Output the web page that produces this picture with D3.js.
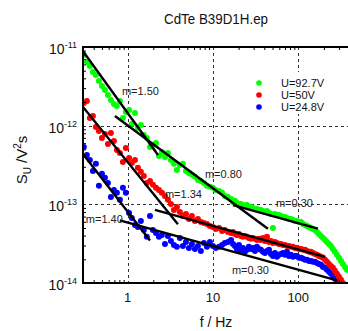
<!DOCTYPE html>
<html>
<head>
<meta charset="utf-8">
<script src="https://cdn.jsdelivr.net/npm/d3@7"></script>
<style>
  html, body { margin: 0; padding: 0; background: #fff; }
  svg { display: block; font-family: "Liberation Sans", Arial, sans-serif; }
</style>
</head>
<body>
<svg id="chart" width="348" height="331"></svg>
<script>
// Voltage noise spectra of CdTe sample B39D1H at three bias voltages.

// Measurement frequencies, Hz
const frequencies = [
  0.307, 0.333, 0.361, 0.392, 0.425, 0.461, 0.500, 0.542, 0.588, 0.637,
  0.691, 0.749, 0.812, 0.881, 0.955, 1.04, 1.12, 1.22, 1.32, 1.43,
  1.55, 1.68, 1.83, 1.98, 2.15, 2.33, 2.52, 2.74, 2.97, 3.22,
  3.49, 3.78, 4.10, 4.45, 4.83, 5.23, 5.67, 6.15, 6.67, 7.23,
  7.85, 8.51, 9.22, 10.0, 10.8, 11.8, 12.8, 13.8, 15.0, 16.3,
  17.2, 18.1, 19.1, 20.2, 21.3, 22.5, 23.7, 25.0, 26.4, 27.9,
  29.4, 31.1, 32.8, 34.6, 36.5, 38.6, 40.7, 43.0, 45.4, 47.9,
  50.5, 53.3, 56.3, 59.4, 62.7, 66.2, 69.9, 73.7, 77.8, 82.1,
  86.7, 91.5, 96.6, 102, 108, 114, 120, 127, 134, 141,
  149, 157, 166, 175, 185, 195, 206, 217, 229, 242,
  255, 269, 284, 300, 317, 334, 353, 372
];

// Spectral density S_U in units of 1e-14 V^2 s
const UNIT = 1e-14;

const su927 = [
  791, 645, 573, 481, 441, 370, 320, 284, 245, 212,
  188, 178, 206, 125, 149, 158, 105, 145, 93.5, 102,
  76.2, 69.8, 53.7, 56.9, 60.3, 41.2, 46.3, 40.1, 45.0, 36.7,
  32.7, 27.4, 31.7, 32.7, 26.6, 25.1, 23.7, 22.4, 20.4, 19.8,
  18.7, 17.2, 16.7, 16.2, 15.2, 14.8, 14.0, 12.8, 12.4, 11.7,
  10.7, 11.1, 10.4, 10.1, 10.1, 9.83, 9.55, 9.83, 9.27, 9.27,
  9.01, 8.75, 8.75, 8.49, 8.49, 8.25, 8.01, 8.25, 7.78, 7.56,
  5.01, 7.56, 7.33, 7.33, 7.12, 6.92, 6.92, 6.72, 6.52, 6.52,
  6.34, 6.15, 6.15, 5.98, 5.98, 5.64, 5.47, 5.32, 5.16, 5.01,
  4.87, 4.73, 4.46, 4.21, 3.97, 3.74, 3.53, 3.33, 3.14, 2.96,
  2.71, 2.49, 2.28, 2.09, 1.91, 1.75, 1.60, 1.47
];

const su500 = [
  194, 206, 125, 133, 96.2, 85.6, 69.8, 78.4, 58.6, 80.7,
  63.9, 49.1, 45.0, 34.6, 52.1, 38.9, 33.6, 36.7, 29.1, 25.9,
  23.0, 18.7, 19.8, 17.7, 16.2, 15.2, 14.0, 12.8, 11.4, 10.1,
  8.49, 9.27, 8.01, 7.12, 7.56, 6.52, 7.12, 6.15, 6.52, 5.98,
  5.80, 5.64, 5.32, 5.16, 4.87, 5.01, 4.59, 4.73, 4.46, 4.33,
  4.46, 4.21, 4.09, 4.21, 3.97, 3.86, 3.97, 3.86, 3.74, 3.64,
  3.74, 3.64, 3.53, 3.64, 3.53, 3.74, 3.43, 3.86, 3.33, 3.43,
  3.23, 3.33, 3.23, 3.14, 3.14, 3.05, 3.05, 2.96, 2.96, 2.88,
  2.88, 2.79, 2.79, 2.71, 2.71, 2.64, 2.64, 2.56, 2.49, 2.49,
  2.41, 2.34, 2.28, 2.21, 2.15, 2.09, 1.97, 1.86, 1.75, 1.65,
  1.56, 1.43, 1.31, 1.20, 1.10, 1.00, 0.89, 0.79
];

const su248 = [
  53.7, 42.5, 36.7, 26.6, 32.7, 17.2, 24.4, 21.7, 18.7, 12.4,
  15.2, 14.0, 11.4, 16.2, 14.0, 7.78, 6.72, 5.47, 5.16, 6.15,
  4.73, 3.86, 7.12, 4.73, 4.33, 3.86, 4.09, 3.14, 3.97, 3.43,
  3.05, 2.88, 3.74, 2.96, 3.33, 2.79, 3.14, 2.71, 2.96, 2.56,
  3.23, 2.88, 3.33, 2.96, 2.79, 2.88, 3.05, 3.23, 3.33, 3.53,
  3.14, 2.96, 2.71, 3.05, 2.56, 2.79, 2.49, 2.64, 2.88, 2.71,
  2.79, 2.56, 2.88, 2.71, 2.64, 2.49, 2.41, 2.56, 2.64, 2.34,
  2.21, 2.41, 2.15, 2.28, 2.34, 2.41, 2.28, 2.49, 2.21, 2.28,
  2.15, 2.21, 2.21, 2.09, 2.09, 2.03, 1.97, 1.97, 1.91, 1.91,
  1.86, 1.86, 1.80, 1.75, 1.70, 1.60, 1.56, 1.47, 1.39, 1.31,
  1.23, 1.13, 1.03, 0.92, 0.82, 0.70, 0.61, 0.53
];

const seriesNames = ["U=92.7V", "U=50V", "U=24.8V"];
const seriesColors = ["#00ff00", "#ff0000", "#0000ff"];
const seriesValues = [su927, su500, su248];

// Power-law fits S = S0 * (f / f0)^(-m), drawn from f0 to f1 (S0 in UNIT)
const fitSlope = [1.50, 0.80, 0.30, 1.34, 0.30, 1.40, 0.30];
const fitF0    = [0.30, 0.71, 17.2, 0.30, 2.09, 0.30, 0.81];
const fitF1    = [2.27, 44.1, 170, 3.89, 206, 1.83, 284];
const fitS0    = [884, 133, 9.77, 173, 8.5, 43.5, 6.27];

// Slope annotations, anchored at (frequency, S in UNIT)
const noteText = ["m=1.50", "m=0.80", "m=0.30", "m=1.34", "m=1.40", "m=0.30"];
const noteF    = [0.857, 8.06, 54.8, 2.74, 0.324, 16.7];
const noteS    = [245, 21.7, 9.27, 12.1, 5.80, 1.31];

const xTickValues = [1, 10, 100];
const xTickLabels = ["1", "10", "100"];
const yTickValues = [1e-14, 1e-13, 1e-12, 1e-11];
const yTickExponents = ["-14", "-13", "-12", "-11"];

const titleText = "CdTe B39D1H.ep";
const xTitle = "f / Hz";

// ---- layout ----
const svg = d3.select("#chart");
const pL = 83, pT = 47, pB = 283, pR = 349.6;

const x = d3.scaleLog().domain([0.3, 400]).range([pL, pR]);
const y = d3.scaleLog().domain([1e-14, 1e-11]).range([pB, pT]);

svg.append("defs").append("clipPath").attr("id", "plotClip")
  .append("rect")
  .attr("x", pL).attr("y", pT)
  .attr("width", pR - pL).attr("height", pB - pT);

// dashed grid at the inner decades
const grid = svg.append("g").attr("stroke", "#333").attr("stroke-width", 1)
  .attr("stroke-dasharray", "3,3");
grid.selectAll("line.vx").data(xTickValues).join("line")
  .attr("x1", d => Math.round(x(d)) + 0.5).attr("x2", d => Math.round(x(d)) + 0.5)
  .attr("y1", pT).attr("y2", pB);
grid.selectAll("line.hy").data([1e-13, 1e-12]).join("line")
  .attr("x1", pL).attr("x2", pR)
  .attr("y1", d => Math.round(y(d)) + 0.5).attr("y2", d => Math.round(y(d)) + 0.5);

// data points
const dots = svg.append("g").attr("clip-path", "url(#plotClip)");
[2, 1, 0].forEach(si => {
  const pts = frequencies.map((f, i) => ({ f, s: seriesValues[si][i] * UNIT }));
  dots.append("g").selectAll("circle").data(pts).join("circle")
    .attr("cx", d => x(d.f))
    .attr("cy", d => y(d.s))
    .attr("r", 3)
    .attr("fill", seriesColors[si]);
});

// fit lines
const fits = fitSlope.map((m, i) => {
  const s0 = fitS0[i] * UNIT;
  const s1 = s0 * Math.pow(fitF1[i] / fitF0[i], -m);
  return [[fitF0[i], s0], [fitF1[i], s1]];
});
svg.append("g").attr("clip-path", "url(#plotClip)")
  .selectAll("line").data(fits).join("line")
  .attr("x1", d => x(d[0][0])).attr("y1", d => y(d[0][1]))
  .attr("x2", d => x(d[1][0])).attr("y2", d => y(d[1][1]))
  .attr("stroke", "#000").attr("stroke-width", 2.4).attr("stroke-linecap", "butt");

// slope annotations
svg.append("g").selectAll("text").data(noteText).join("text")
  .attr("x", (d, i) => x(noteF[i]))
  .attr("y", (d, i) => y(noteS[i] * UNIT))
  .attr("font-size", 11).attr("fill", "#222")
  .text(d => d);

// minor ticks (inward)
const isDecade = v => Math.abs(Math.log10(v) - Math.round(Math.log10(v))) < 1e-6;
const xMinor = x.ticks().filter(v => !isDecade(v));
const yMinor = y.ticks().filter(v => !isDecade(v));

function cleanAxis(g) {
  g.select(".domain").remove();
  g.selectAll(".tick line").attr("stroke", "#000").attr("stroke-width", 1);
  g.selectAll(".tick text").remove();
}
svg.append("g").attr("transform", `translate(0,${pB})`)
  .call(d3.axisBottom(x).tickValues(xMinor).tickSize(-3).tickFormat(""))
  .call(cleanAxis);
svg.append("g").attr("transform", `translate(0,${pT})`)
  .call(d3.axisTop(x).tickValues(xMinor).tickSize(-3).tickFormat(""))
  .call(cleanAxis);
svg.append("g").attr("transform", `translate(${pL},0)`)
  .call(d3.axisLeft(y).tickValues(yMinor).tickSize(-3).tickFormat(""))
  .call(cleanAxis);

// frame
const frame = svg.append("g").attr("stroke", "#000").attr("stroke-width", 2).attr("fill", "none");
frame.append("line").attr("x1", pL - 1).attr("x2", pR).attr("y1", pT).attr("y2", pT);
frame.append("line").attr("x1", pL - 1).attr("x2", pR).attr("y1", pB).attr("y2", pB);
frame.append("line").attr("x1", pL).attr("x2", pL).attr("y1", pT - 1).attr("y2", pB + 1);
frame.append("line").attr("x1", pR).attr("x2", pR).attr("y1", pT - 1).attr("y2", pB + 1);

// x tick labels
svg.append("g").selectAll("text").data(xTickValues).join("text")
  .attr("x", d => x(d)).attr("y", 302)
  .attr("text-anchor", "middle").attr("font-size", 13).attr("fill", "#111")
  .text((d, i) => xTickLabels[i]);

// y tick labels: 10 with exponent
const yl = svg.append("g").selectAll("text").data(yTickValues).join("text")
  .attr("x", 77).attr("y", d => y(d) + 7)
  .attr("text-anchor", "end").attr("fill", "#111");
yl.append("tspan").attr("font-size", 14).text("10");
yl.append("tspan").attr("font-size", 9).attr("dy", -6).text((d, i) => yTickExponents[i]);

// title
svg.append("text").attr("x", 216).attr("y", 24)
  .attr("text-anchor", "middle").attr("font-size", 14).attr("fill", "#111")
  .attr("textLength", 104).attr("lengthAdjust", "spacingAndGlyphs")
  .text(titleText);

// x axis title
svg.append("text").attr("x", 216).attr("y", 327)
  .attr("text-anchor", "middle").attr("font-size", 14).attr("fill", "#111")
  .text(xTitle);

// y axis title: S_U / V^2 s
const yt = svg.append("text")
  .attr("transform", "translate(27,160) rotate(-90)")
  .attr("text-anchor", "middle").attr("font-size", 15).attr("fill", "#111");
yt.append("tspan").text("S");
yt.append("tspan").attr("font-size", 10).attr("dy", 4).text("U");
yt.append("tspan").attr("dy", -4).text(" /V");
yt.append("tspan").attr("font-size", 10).attr("dy", -6).text("2");
yt.append("tspan").attr("dy", 6).text("s");

// legend on an opaque box that hides the grid behind it
const legend = svg.append("g");
legend.append("rect").attr("x", 248).attr("y", 72).attr("width", 80).attr("height", 42)
  .attr("fill", "#fff");
const legendY = [83, 95, 107];
seriesNames.forEach((name, i) => {
  legend.append("circle").attr("cx", 259).attr("cy", legendY[i]).attr("r", 2.8)
    .attr("fill", seriesColors[i]);
  legend.append("text").attr("x", 281).attr("y", legendY[i] + 4)
    .attr("font-size", 11).attr("fill", "#111").text(name);
});
</script>
</body>
</html>
